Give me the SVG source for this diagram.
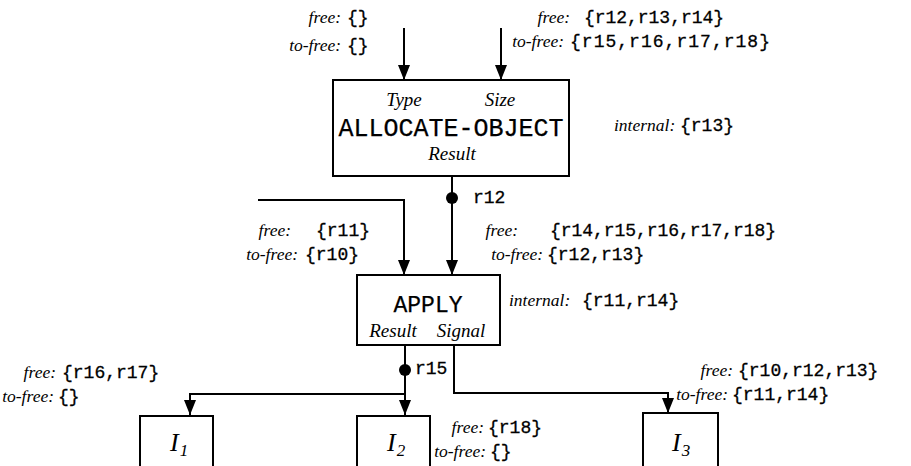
<svg xmlns="http://www.w3.org/2000/svg" width="911" height="466" viewBox="0 0 911 466">
<style>
.lbl{font-family:"Liberation Serif",serif;font-style:italic;font-size:17.5px;fill:#000}
.set{font-family:"Liberation Mono",monospace;font-size:18px;fill:#000;stroke:#000;stroke-width:0.3}
.port{font-family:"Liberation Serif",serif;font-style:italic;font-size:19px;fill:#000}
.name{font-family:"Liberation Mono",monospace;fill:#000;stroke:#000;stroke-width:0.25}
.box{fill:#fff;stroke:#000;stroke-width:2}
.wire{fill:none;stroke:#000;stroke-width:2}
.inst{font-family:"Liberation Serif",serif;font-style:italic;font-size:26px;fill:#000}
.sub{font-family:"Liberation Serif",serif;font-style:italic;font-size:17px;fill:#000}
</style>
<defs>
<marker id="ah" viewBox="0 0 15 12" refX="15" refY="6" markerWidth="15" markerHeight="12" markerUnits="userSpaceOnUse" orient="auto">
<path d="M0,0 L15,6 L0,12 Z" fill="#000"/>
</marker>
</defs>
<g id="connectors">
<path class="wire" d="M404,28 V80" marker-end="url(#ah)"/>
<path class="wire" d="M501,28 V80" marker-end="url(#ah)"/>
<path class="wire" d="M452,176 V275" marker-end="url(#ah)"/>
<circle cx="452" cy="198" r="6" fill="#000"/>
<path class="wire" d="M258,200 H404 V275" marker-end="url(#ah)"/>
<path class="wire" d="M405,345 V415" marker-end="url(#ah)"/>
<circle cx="405" cy="370" r="6" fill="#000"/>
<path class="wire" d="M405,394 H190 V415" marker-end="url(#ah)"/>
<path class="wire" d="M454,345 V393 H668 V413" marker-end="url(#ah)"/>
</g>
<g id="labels">
<text class="lbl" x="341" y="23" text-anchor="end">free:</text>
<text class="set" x="347" y="23">{}</text>
<text class="lbl" x="341" y="51" text-anchor="end">to-free:</text>
<text class="set" x="347" y="51">{}</text>
<text class="lbl" x="570" y="23" text-anchor="end">free:</text>
<text class="set" x="584" y="23" textLength="140" lengthAdjust="spacing">{r12,r13,r14}</text>
<text class="lbl" x="564" y="47" text-anchor="end">to-free:</text>
<text class="set" x="570" y="47" textLength="200" lengthAdjust="spacing">{r15,r16,r17,r18}</text>
<text class="lbl" x="614" y="131">internal:</text>
<text class="set" x="680" y="131">{r13}</text>
<text class="set" x="473" y="203">r12</text>
<text class="lbl" x="291" y="236" text-anchor="end">free:</text>
<text class="set" x="316" y="236">{r11}</text>
<text class="lbl" x="298" y="260" text-anchor="end">to-free:</text>
<text class="set" x="305" y="260">{r10}</text>
<text class="lbl" x="518" y="236" text-anchor="end">free:</text>
<text class="set" x="550" y="236" textLength="226" lengthAdjust="spacing">{r14,r15,r16,r17,r18}</text>
<text class="lbl" x="543" y="260" text-anchor="end">to-free:</text>
<text class="set" x="547" y="260">{r12,r13}</text>
<text class="lbl" x="509" y="306">internal:</text>
<text class="set" x="582" y="306">{r11,r14}</text>
<text class="set" x="415" y="374">r15</text>
<text class="lbl" x="56" y="378" text-anchor="end">free:</text>
<text class="set" x="62" y="378">{r16,r17}</text>
<text class="lbl" x="54" y="402" text-anchor="end">to-free:</text>
<text class="set" x="58" y="402">{}</text>
<text class="lbl" x="484" y="433" text-anchor="end">free:</text>
<text class="set" x="488" y="433">{r18}</text>
<text class="lbl" x="486" y="457" text-anchor="end">to-free:</text>
<text class="set" x="490" y="457">{}</text>
<text class="lbl" x="733" y="376" text-anchor="end">free:</text>
<text class="set" x="738" y="376">{r10,r12,r13}</text>
<text class="lbl" x="728" y="400" text-anchor="end">to-free:</text>
<text class="set" x="732" y="400">{r11,r14}</text>
</g>
<g id="allocate-object">
<rect class="box" x="333" y="80" width="236" height="96"/>
<text class="port" x="404" y="106" text-anchor="middle">Type</text>
<text class="port" x="500" y="106" text-anchor="middle">Size</text>
<text class="name" x="451" y="136" text-anchor="middle" font-size="25">ALLOCATE-OBJECT</text>
<text class="port" x="452" y="160" text-anchor="middle">Result</text>
</g>
<g id="apply">
<rect class="box" x="357" y="275" width="143" height="70"/>
<text class="name" x="428" y="312" text-anchor="middle" font-size="23">APPLY</text>
<text class="port" x="393" y="337" text-anchor="middle">Result</text>
<text class="port" x="461" y="337" text-anchor="middle">Signal</text>
</g>
<g id="i1">
<rect class="box" x="140" y="416" width="73" height="55"/>
<text class="inst" x="170" y="451">I<tspan class="sub" dx="1" dy="5">1</tspan></text>
</g>
<g id="i2">
<rect class="box" x="357" y="416" width="73" height="55"/>
<text class="inst" x="387" y="451">I<tspan class="sub" dx="1" dy="5">2</tspan></text>
</g>
<g id="i3">
<rect class="box" x="643" y="413" width="75" height="58"/>
<text class="inst" x="672" y="451">I<tspan class="sub" dx="1" dy="5">3</tspan></text>
</g>
</svg>
